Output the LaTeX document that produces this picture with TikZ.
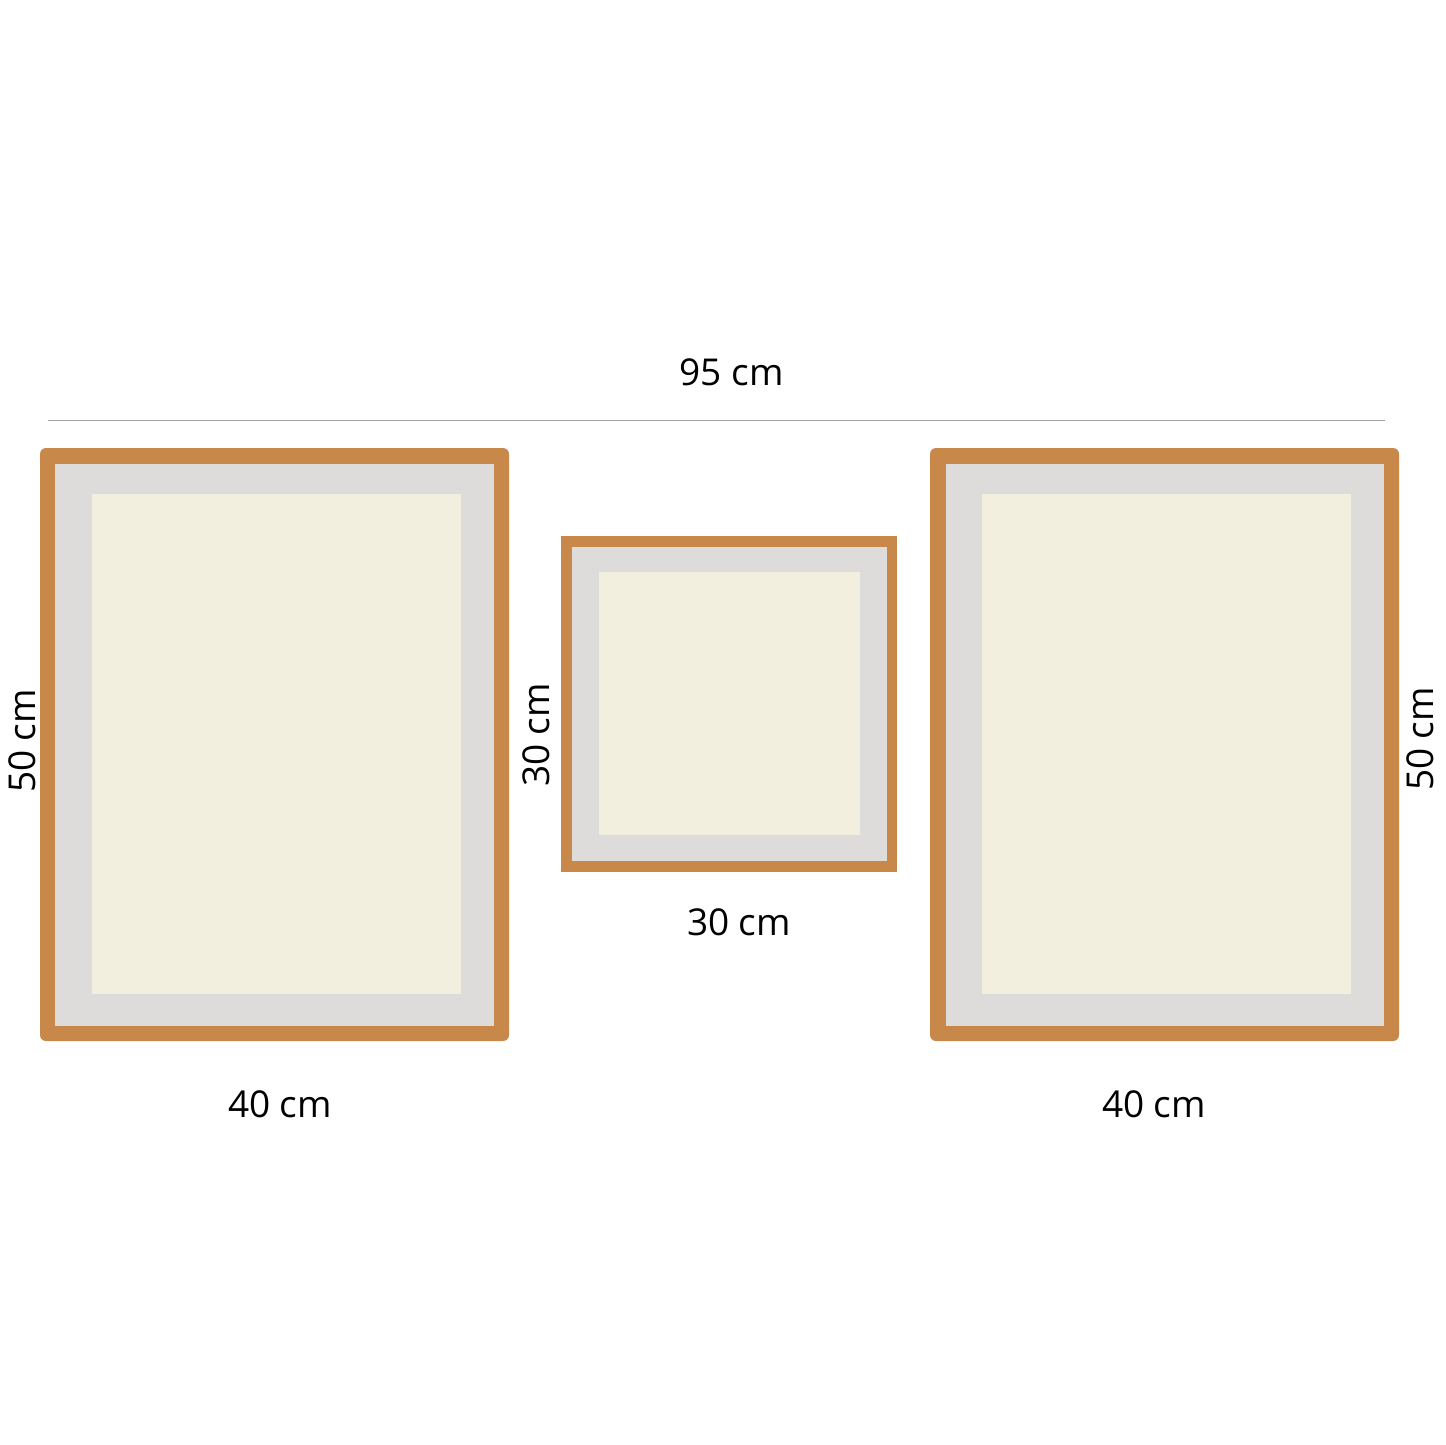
\documentclass[tikz,border=0pt]{standalone}
\usepackage{fontspec}
\setmainfont{Open Sans}
\definecolor{frameor}{RGB}{200,136,74}
\definecolor{matgray}{RGB}{221,220,218}
\definecolor{cream}{RGB}{242,239,222}
\definecolor{rulegray}{RGB}{160,160,160}
\begin{document}
\begin{tikzpicture}[x=1pt,y=-1pt,
  outerframe/.style={fill=frameor,draw=none,rounded corners=6pt},
  squareframe/.style={fill=frameor,draw=none},
  mat/.style={fill=matgray,draw=none},
  art/.style={fill=cream,draw=none},
  lbl/.style={font=\fontsize{37}{40}\selectfont,inner sep=0pt,anchor=base,text=black}]
\useasboundingbox (0,0) rectangle (1445,1445);
% dimension rule
\coordinate (ruleL) at (48,420.5);
\coordinate (ruleR) at (1385,420.5);
\draw[rulegray,line width=1.2pt] (ruleL) -- (ruleR);
% left frame
\path[outerframe] (40,448) rectangle (509,1041);
\path[mat] (55,463.5) rectangle (494,1025.5);
\path[art] (92,494) rectangle (461,994);
% middle frame
\path[squareframe] (561,536) rectangle (897,872);
\path[mat] (572,547) rectangle (887,861);
\path[art] (599,572) rectangle (860,835);
% right frame
\path[outerframe] (930,448) rectangle (1399,1041);
\path[mat] (946,463.5) rectangle (1384,1025.5);
\path[art] (982,494) rectangle (1351,994);
% labels
\node[lbl] (top) at (731.5,385) {95 cm};
\node[lbl,rotate=90] (leftH) at (35,741) {50 cm};
\node[lbl,rotate=90] (midH) at (549,735) {30 cm};
\node[lbl,rotate=90] (rightH) at (1433,739) {50 cm};
\node[lbl] (midW) at (739,935) {30 cm};
\node[lbl] (leftW) at (280,1117) {40 cm};
\node[lbl] (rightW) at (1154,1117) {40 cm};
\end{tikzpicture}
\end{document}
